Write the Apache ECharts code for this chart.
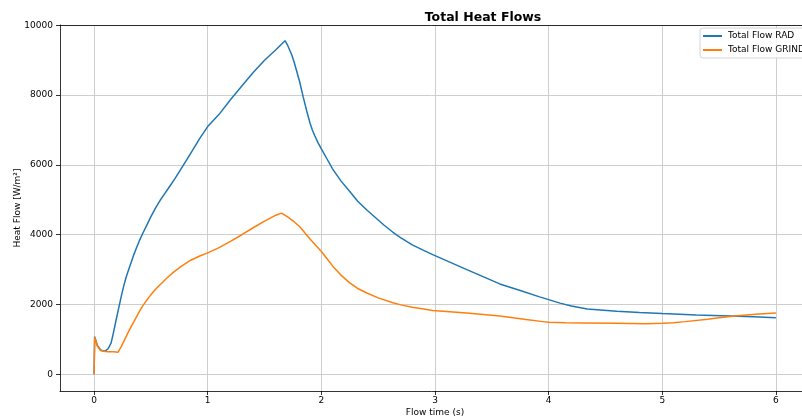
<!DOCTYPE html>
<html>
<head>
<meta charset="utf-8">
<script src="https://cdn.jsdelivr.net/npm/echarts@6/dist/echarts.min.js"></script>
<style>
  html, body { margin: 0; padding: 0; background: #fff; }
  #chart { width: 802px; height: 420px; }
</style>
</head>
<body>
<div id="chart"></div>
<script>
// Total heat flow over flow time, radiation vs. grinding
const timeRad = [0, 0.005, 0.03, 0.055, 0.08, 0.1, 0.125, 0.15, 0.17, 0.19, 0.214, 0.24, 0.26, 0.28, 0.3, 0.325, 0.35, 0.375, 0.4, 0.43, 0.463, 0.5, 0.54, 0.58, 0.62, 0.66, 0.71, 0.76, 0.85, 0.93, 1.0, 1.1, 1.2, 1.3, 1.4, 1.5, 1.6, 1.68, 1.7, 1.72, 1.74, 1.76, 1.78, 1.81, 1.84, 1.87, 1.9, 1.92, 1.94, 1.97, 2.0, 2.05, 2.1, 2.17, 2.25, 2.32, 2.4, 2.48, 2.55, 2.63, 2.7, 2.8, 2.9, 2.98, 3.28, 3.57, 3.75, 3.92, 4.0, 4.1, 4.2, 4.34, 4.6, 4.8, 5.0, 5.3, 5.6, 5.8, 6.0];
const flowRad = [0, 1080, 820, 710, 665, 670, 740, 900, 1190, 1500, 1860, 2250, 2520, 2760, 2960, 3200, 3430, 3640, 3840, 4050, 4270, 4520, 4760, 4980, 5170, 5360, 5600, 5860, 6330, 6760, 7100, 7450, 7870, 8260, 8650, 9000, 9300, 9560, 9450, 9300, 9150, 8950, 8720, 8370, 7950, 7560, 7200, 7010, 6850, 6640, 6460, 6170, 5880, 5550, 5240, 4960, 4710, 4480, 4280, 4070, 3910, 3710, 3550, 3430, 3000, 2590, 2400, 2220, 2140, 2040, 1960, 1870, 1810, 1770, 1740, 1700, 1670, 1650, 1620];

const timeGrind = [0, 0.005, 0.03, 0.055, 0.08, 0.12, 0.17, 0.21, 0.24, 0.27, 0.3, 0.33, 0.36, 0.4, 0.43, 0.46, 0.49, 0.52, 0.56, 0.61, 0.65, 0.7, 0.76, 0.85, 0.93, 1.0, 1.1, 1.2, 1.3, 1.4, 1.5, 1.6, 1.65, 1.7, 1.75, 1.81, 1.9, 2.0, 2.05, 2.1, 2.17, 2.25, 2.32, 2.4, 2.5, 2.63, 2.7, 2.8, 2.9, 2.98, 3.28, 3.57, 3.8, 3.95, 4.0, 4.15, 4.3, 4.6, 4.85, 5.0, 5.1, 5.2, 5.4, 5.5, 5.66, 5.85, 6.0];
const flowGrind = [0, 1060, 800, 690, 660, 650, 650, 630, 800, 1000, 1200, 1390, 1570, 1810, 1970, 2110, 2240, 2360, 2500, 2660, 2790, 2930, 3080, 3270, 3390, 3480, 3630, 3810, 4000, 4200, 4390, 4560, 4620, 4520, 4400, 4230, 3880, 3520, 3310, 3100, 2850, 2620, 2460, 2330, 2190, 2050, 1990, 1920, 1870, 1830, 1760, 1670, 1570, 1510, 1490, 1475, 1470, 1460, 1450, 1460, 1480, 1510, 1580, 1620, 1680, 1730, 1760];

const xTicks = [0, 1, 2, 3, 4, 5, 6];
const yTicks = [0, 2000, 4000, 6000, 8000, 10000];

const seriesNames = ['Total Flow RAD', 'Total Flow GRIND'];
const seriesColors = ['#1f77b4', '#ff7f0e'];

function pairs(xs, ys) {
  return xs.map((x, i) => [x, ys[i]]);
}

const FONT = 'DejaVu Sans';
const FS = 9;
const X_MIN = -0.3, X_MAX = 6.3;
const chart = echarts.init(document.getElementById('chart'), null, { renderer: 'canvas' });

const axisCommon = {
  type: 'value',
  axisLine: { show: true, onZero: false, lineStyle: { color: '#000', width: 0.8 } },
  axisTick: { show: true, inside: false, length: 4, lineStyle: { color: '#000', width: 0.8 } },
  splitLine: { show: true, lineStyle: { color: '#c8c8c8', width: 0.9 } },
  nameLocation: 'middle',
  nameMoveOverlap: false,
  nameTextStyle: { fontFamily: FONT, fontSize: FS, color: '#000' }
};

chart.setOption({
  animation: false,
  backgroundColor: '#fff',
  title: {
    text: 'Total Heat Flows',
    left: 478,
    textAlign: 'center',
    top: 6,
    textStyle: { fontFamily: FONT, fontSize: 12.5, fontWeight: 'bold', color: '#000' }
  },
  legend: {
    data: seriesNames.map(n => ({ name: n, icon: 'rect' })),
    orient: 'vertical',
    left: 700,
    top: 28,
    itemWidth: 19,
    itemHeight: 2,
    itemGap: 2,
    padding: [2, 6, 2, 3],
    borderColor: '#d4d4d4',
    borderWidth: 1,
    borderRadius: 3,
    backgroundColor: 'rgba(255,255,255,0.8)',
    textStyle: { fontFamily: FONT, fontSize: FS, color: '#000', lineHeight: 12, padding: [0, 0, 0, 1] }
  },
  grid: {
    left: 60,
    top: 25,
    right: -8,
    bottom: 29,
    show: false,
    containLabel: false,
    outerBoundsMode: 'none'
  },
  xAxis: [
    Object.assign({}, axisCommon, {
      min: X_MIN,
      max: X_MAX,
      name: 'Flow time (s)',
      nameGap: 17,
      axisTick: Object.assign({}, axisCommon.axisTick, { customValues: xTicks }),
      axisLabel: {
        customValues: xTicks,
        margin: 5,
        formatter: v => String(v),
        fontFamily: FONT, fontSize: FS, color: '#000'
      }
    }),
    {
      // top frame edge
      type: 'value',
      position: 'top',
      min: X_MIN,
      max: X_MAX,
      z: 10,
      axisLine: { show: true, onZero: false, lineStyle: { color: '#000', width: 0.8 } },
      axisTick: { show: false },
      axisLabel: { show: false },
      splitLine: { show: false }
    }
  ],
  yAxis: Object.assign({}, axisCommon, {
    min: -478,
    max: 10010,
    name: 'Heat Flow [W/m²]',
    nameGap: 38,
    axisTick: Object.assign({}, axisCommon.axisTick, { customValues: yTicks }),
    axisLabel: {
      customValues: yTicks,
      margin: 7,
      formatter: v => String(v),
      fontFamily: FONT, fontSize: FS, color: '#000'
    }
  }),
  series: [
    {
      name: seriesNames[0],
      type: 'line',
      data: pairs(timeRad, flowRad),
      symbol: 'none',
      smooth: false,
      color: seriesColors[0],
      lineStyle: { width: 1.5, color: seriesColors[0] }
    },
    {
      name: seriesNames[1],
      type: 'line',
      data: pairs(timeGrind, flowGrind),
      symbol: 'none',
      smooth: false,
      color: seriesColors[1],
      lineStyle: { width: 1.5, color: seriesColors[1] }
    }
  ]
});
</script>
</body>
</html>
